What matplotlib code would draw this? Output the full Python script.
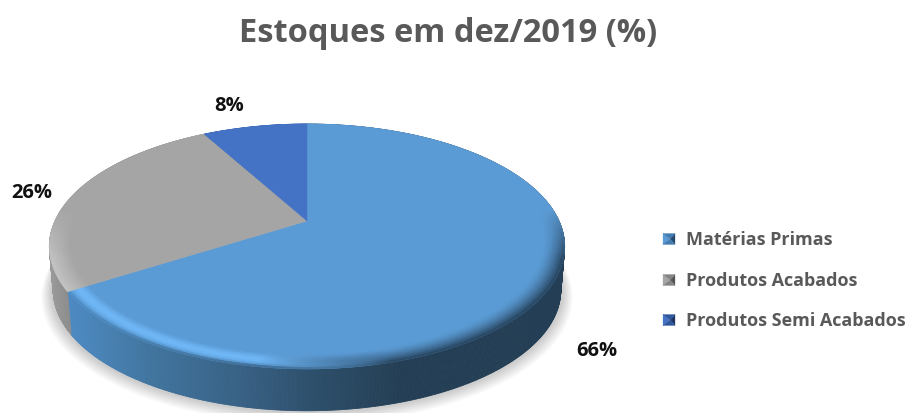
import numpy as np
import matplotlib
matplotlib.use("Agg")
import matplotlib.pyplot as plt
from matplotlib.patches import Polygon
from matplotlib.collections import PolyCollection
from matplotlib.colors import to_rgb

# dados
categorias = ["Matérias Primas", "Produtos Acabados", "Produtos Semi Acabados"]
valores = [66, 26, 8]
titulo = "Estoques em dez/2019 (%)"

cores = ["#5b9bd5", "#a5a5a5", "#4472c4"]
cores_borda = ["#70b8f7", "#c4c4c4", "#5a8ae0"]

# geometria do disco em perspectiva (pixels da imagem)
CX, CY = 307.0, 222.0
RX, RY, K = 252.0, 117.2, 0.208
ALTURA = 44.0


def projeta(ang, r=1.0, esc=1.0, dy=0.0):
    # ang em radianos, sentido horário a partir do topo
    u = r * np.sin(ang)
    v = r * np.cos(ang)
    w = 1 + K * v
    return CX + esc * RX * u / w, CY - esc * RY * v / w + dy


def mistura(a, b, t):
    a, b = np.array(to_rgb(a)), np.array(to_rgb(b))
    return tuple(a + (b - a) * float(np.clip(t, 0, 1)))


def cor_lateral(x, i):
    if i == 1:
        return mistura("#999999", "#858585", (x - 50) / 30)
    if i == 2:
        return to_rgb("#3a5f9e")
    xs = [70, 150, 250, 310, 400, 600]
    cs = ["#4d8ac2", "#41759f", "#375f82", "#2e506c", "#243f55", "#243f55"]
    rgb = [to_rgb(c) for c in cs]
    return tuple(np.interp(x, xs, [c[k] for c in rgb]) for k in range(3))


fig = plt.figure(figsize=(9.1, 4.14), dpi=100, facecolor="white")
ax = fig.add_axes([0, 0, 1, 1])
ax.set_xlim(0, 910)
ax.set_ylim(414, 0)
ax.axis("off")

# sombra suave
todos = np.linspace(0, 2 * np.pi, 361)
for n in range(10):
    sx, sy = projeta(todos, esc=0.995 + n * 0.004, dy=ALTURA + 1 + n * 0.6)
    ax.add_patch(Polygon(np.c_[sx, sy], closed=True, fc="black", ec="none",
                         alpha=0.02, zorder=1))

fracoes = np.cumsum([0] + valores) / sum(valores)
angulos = fracoes * 2 * np.pi

# lateral
quads, cores_q = [], []
for i in range(len(valores)):
    t = np.linspace(angulos[i], angulos[i + 1], max(int(valores[i] * 8), 6))
    x0, y0 = projeta(t)
    x1, y1 = projeta(t, esc=0.985, dy=ALTURA)
    for j in range(len(t) - 1):
        quads.append([(x0[j], y0[j]), (x0[j + 1], y0[j + 1]),
                      (x1[j + 1], y1[j + 1]), (x1[j], y1[j])])
        cores_q.append(cor_lateral(x0[j], i))
ax.add_collection(PolyCollection(quads, facecolors=cores_q, edgecolors=cores_q,
                                 linewidths=0.6, zorder=2))

# fatias do topo
for i in range(len(valores)):
    t = np.linspace(angulos[i], angulos[i + 1], 200)
    x, y = projeta(t)
    pts = np.vstack([[CX, CY], np.c_[x, y]])
    ax.add_patch(Polygon(pts, closed=True, fc=cores[i], ec=cores[i], lw=0.3, zorder=3))

# chanfro da borda
raios = np.linspace(0.92, 1.0, 10)
quads, cores_q = [], []
for i in range(len(valores)):
    t = np.linspace(angulos[i], angulos[i + 1], max(int(valores[i] * 6), 6))
    for a in range(len(raios) - 1):
        xa, ya = projeta(t, r=raios[a])
        xb, yb = projeta(t, r=raios[a + 1])
        for j in range(len(t) - 1):
            frente = np.clip((0.1 - np.cos(t[j])) / 0.4, 0, 1)
            p = (a + 0.5) / (len(raios) - 1)
            if i == 0:
                # perto da direita a borda escurece, na esquerda clareia
                d = np.clip((xa[j] - 260) / 130, 0, 1)
                borda = mistura(cores_borda[0], "#27435c", d)
                claro = np.sin(np.pi * min(p, 0.98)) ** 1.5
                forca = frente * ((1 - d) * claro + d * p ** 1.5)
                c = mistura(cores[i], borda, forca)
                if p > 0.8:
                    c = mistura(c, cor_lateral(xa[j], 0), (p - 0.8) / 0.2 * (1 - d) * frente)
            else:
                c = mistura(cores[i], cores_borda[i], frente * p)
            quads.append([(xa[j], ya[j]), (xa[j + 1], ya[j + 1]),
                          (xb[j + 1], yb[j + 1]), (xb[j], yb[j])])
            cores_q.append(c)
ax.add_collection(PolyCollection(quads, facecolors=cores_q, edgecolors=cores_q,
                                 linewidths=0.4, zorder=4))

# textos
ax.text(448, 33, titulo, ha="center", va="center", fontsize=23.5,
        family="Open Sans", fontweight="bold", color="#595959")

pos_rotulos = [(597, 351), (32, 193), (229, 106)]
for v, (px, py) in zip(valores, pos_rotulos):
    ax.text(px, py, f"{v}%", ha="center", va="center", fontsize=14.5,
            family="Open Sans", fontweight="bold", color="#111111")

# legenda
leg_y = [240, 281, 321]
leg_cores = [("#5b9bd5", "#234a6e", "#437cb0"), ("#a5a5a5", "#555555", "#858585"),
             ("#4472c4", "#1c3364", "#30579c")]
for nome, ly, (c1, c2, c3) in zip(categorias, leg_y, leg_cores):
    x0, x1, y0, y1 = 663, 675, ly - 5.5, ly + 5.5
    xm, ym = (x0 + x1) / 2 + 1, ly
    ax.add_patch(Polygon([(x0, y0), (x0, y1), (xm, ym)], fc=c1, ec=c1, lw=0.2, zorder=5))
    ax.add_patch(Polygon([(x1, y0), (x1, y1), (xm, ym)], fc=c2, ec=c2, lw=0.2, zorder=5))
    ax.add_patch(Polygon([(x0, y0), (x1, y0), (xm, ym)], fc=c3, ec=c3, lw=0.2, zorder=5))
    ax.add_patch(Polygon([(x0, y1), (x1, y1), (xm, ym)], fc=c3, ec=c3, lw=0.2, zorder=5))
    ax.text(686, ly, nome, ha="left", va="center", fontsize=13,
            family="Open Sans", fontweight="bold", color="#595959")

fig.savefig("out.png", dpi=100)
